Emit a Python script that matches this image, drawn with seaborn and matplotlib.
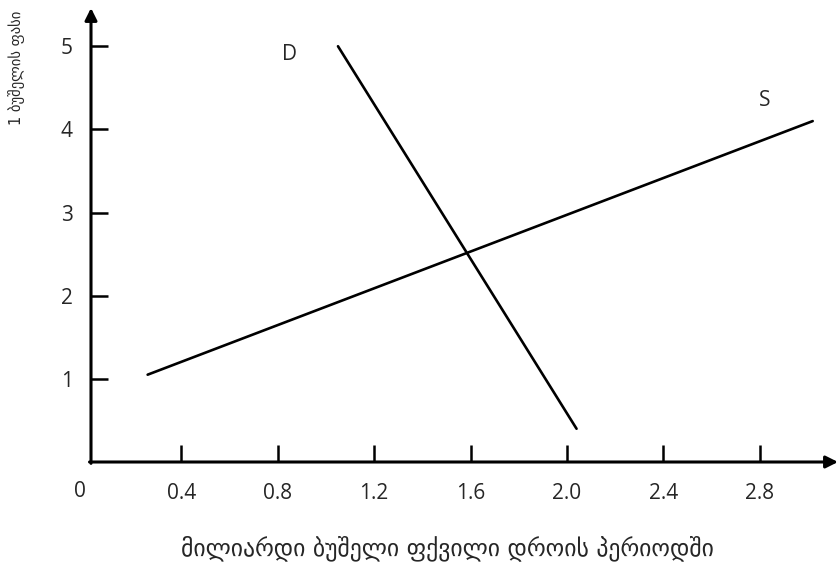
import numpy as np
import pandas as pd
import matplotlib
matplotlib.use('Agg')
import matplotlib.pyplot as plt
import seaborn as sns

# supply / demand end points
supply_qty = [0.26, 3.02]
supply_price = [1.05, 4.10]
demand_qty = [1.05, 2.04]
demand_price = [5.00, 0.40]

x_ticks = [0.4, 0.8, 1.2, 1.6, 2.0, 2.4, 2.8]
x_tick_labels = ['0.4', '0.8', '1.2', '1.6', '2.0', '2.4', '2.8']
y_ticks = [1, 2, 3, 4, 5]
y_tick_labels = ['1', '2', '3', '4', '5']

x_label = 'მილიარდი ბუშელი ფქვილი დროის პერიოდში'
y_label = '1 ბუშელის ფასი'

num_font = ['Open Sans', 'DejaVu Sans']


def main():
    sns.set_theme(style='white')
    plt.rcParams['font.family'] = ['DejaVu Sans']

    df = pd.DataFrame({
        'qty': supply_qty + demand_qty,
        'price': supply_price + demand_price,
        'curve': ['S', 'S', 'D', 'D'],
    })

    fig = plt.figure(figsize=(8.4, 5.64), dpi=100)
    ax = fig.add_axes([91 / 840, 102 / 564, 747 / 840, 454 / 564])

    sns.lineplot(data=df, x='qty', y='price', hue='curve',
                 palette={'S': 'black', 'D': 'black'}, linewidth=1.9,
                 legend=False, ax=ax, sort=False)

    ax.set_xlim(0.025, 3.125)
    ax.set_ylim(0, 5.46)
    for s in ax.spines.values():
        s.set_visible(False)

    # axes with arrow heads
    arrow = dict(arrowstyle='-|>', lw=2.2, color='black', mutation_scale=18,
                 shrinkA=0, shrinkB=0)
    ax.annotate('', xy=(1.0, 0), xytext=(-0.002, 0), xycoords='axes fraction',
                arrowprops=arrow, annotation_clip=False)
    ax.annotate('', xy=(0, 1.0), xytext=(0, -0.003), xycoords='axes fraction',
                arrowprops=arrow, annotation_clip=False)

    ax.set_xticks(x_ticks)
    ax.set_xticklabels(x_tick_labels, family=num_font, fontsize=15)
    ax.set_yticks(y_ticks)
    ax.set_yticklabels(y_tick_labels, family=num_font, fontsize=15)
    ax.tick_params(axis='x', direction='in', length=12, width=1.8, color='black',
                   pad=15, bottom=True)
    ax.tick_params(axis='y', direction='in', length=12, width=1.8, color='black',
                   pad=13, left=True)
    ax.set_xlabel('')
    ax.set_ylabel('')

    ax.text(-0.02, -0.066, '0', transform=ax.get_xaxis_transform(), ha='center',
            va='center', fontsize=15, family=num_font)

    ax.text(0.85, 4.9, 'D', fontsize=15, family=num_font, ha='center', va='center')
    ax.text(2.82, 4.35, 'S', fontsize=15, family=num_font, ha='center', va='center')

    fig.text(447 / 840, 1 - 548 / 564, x_label, ha='center', va='center', fontsize=17)
    fig.text(17 / 840, 1 - 68 / 564, y_label, ha='center', va='center',
             rotation=90, fontsize=10.5)

    fig.savefig('out.png', dpi=100)
    plt.close(fig)


if __name__ == '__main__':
    main()
